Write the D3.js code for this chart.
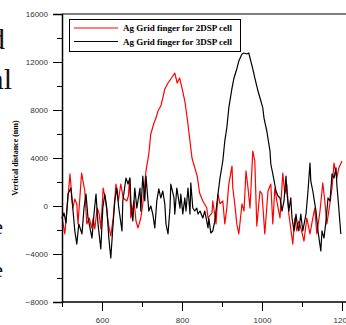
<!DOCTYPE html>
<html>
<head>
<meta charset="utf-8">
<script src="https://cdn.jsdelivr.net/npm/d3@7"></script>
<style>
  body { margin: 0; background: #fff; }
  svg { display: block; }
</style>
</head>
<body>
<svg id="chart" width="346" height="325"></svg>
<script>
// profile of the 2DSP finger (red)
const red2dspX = [500, 507, 520, 527, 532, 537, 540, 549, 557, 562, 568, 574, 578, 582, 588, 593, 597, 603, 609, 616,
  622, 628, 635, 641, 647, 653, 662, 666, 669, 672, 680, 685, 690, 697, 702, 710, 717, 722, 730, 735,
  740, 747, 752, 757, 765, 772, 777, 782, 788, 794, 800, 807, 813, 819, 825, 832, 838, 844, 852, 862,
  865, 875, 877, 885, 890, 895, 902, 907, 912, 917, 925, 927, 932, 937, 942, 950, 955, 960, 965, 970,
  977, 982, 987, 995, 1000, 1007, 1015, 1022, 1027, 1032, 1037, 1045, 1052, 1057, 1062, 1067, 1077, 1082, 1087, 1092,
  1097, 1105, 1112, 1120, 1127, 1132, 1137, 1145, 1152, 1157, 1162, 1167, 1175, 1180, 1187, 1192, 1200];
const red2dspY = [-900, -2330, 2670, -170, 580, 170, -1500, 2750, 1250, -1500, -1000, -1830, -1000, -1900, -170, -670, -1900, 1500, 420, -1500,
  -2500, -1000, 1830, 420, 1830, 670, 420, 830, 2330, -1000, 420, -1250, -1830, -1000, 170, 2920, 4330, 6000, 6920, 7330,
  7920, 8330, 9000, 9750, 10250, 10580, 10830, 11080, 10250, 10670, 9830, 8750, 7330, 5670, 4000, 3170, 2500, 1080, 420, -170,
  -1000, -580, 420, -1500, 1000, 170, 420, -1500, -170, 1830, 3330, 1500, 170, -1500, -2330, 170, -420, 2920, 1500, -170,
  4580, 3750, -1670, 1250, 1000, -2330, 1250, 1830, -1500, 1500, 420, -1000, 2750, 1000, 1830, -670, -3170, -1000, -2080, -1250,
  -1830, -2920, -1000, -2330, -1000, -170, -2330, -420, 1920, 420, -1500, -420, 1500, 3580, 2330, 3170, 3750];

// profile of the 3DSP finger (black)
const black3dspX = [500, 505, 510, 515, 522, 527, 532, 537, 542, 550, 555, 560, 565, 575, 580, 585, 590, 597, 602, 607,
  612, 617, 622, 627, 632, 637, 642, 650, 652, 660, 665, 670, 672, 677, 682, 687, 695, 697, 702, 707,
  710, 717, 722, 727, 732, 737, 742, 747, 752, 757, 760, 765, 770, 772, 780, 782, 787, 795, 797, 802,
  807, 810, 815, 820, 822, 827, 832, 837, 840, 845, 852, 857, 865, 867, 872, 877, 882, 890, 895, 902,
  907, 912, 917, 925, 930, 937, 942, 950, 955, 962, 967, 972, 977, 982, 990, 995, 1002, 1005, 1012, 1020,
  1022, 1027, 1035, 1040, 1045, 1050, 1055, 1060, 1062, 1067, 1072, 1075, 1080, 1085, 1087, 1092, 1097, 1102, 1110, 1115,
  1120, 1122, 1127, 1135, 1140, 1147, 1150, 1155, 1160, 1165, 1170, 1175, 1180, 1185, 1187, 1192, 1197];
const black3dspY = [-1000, -580, -1420, 1000, 1500, -170, -2080, -3170, -1500, -2330, -170, 1000, -1000, -2670, -670, 1000, -1500, -3580, -170, 1000,
  -170, -2670, -4330, -1830, 420, 1500, -170, -2080, 420, 2330, 1830, 2330, 420, -1250, 1500, -170, 1500, -420, 2500, 420,
  2500, -420, 0, -670, -1830, 420, 1420, 670, 1250, 170, -1500, -2330, -170, 1830, 670, -670, 1500, -170, 1000, -670,
  670, -420, 1500, -670, 1920, -170, -420, -170, -670, -420, -1000, -420, -1830, -1000, -2250, -2080, -1250, 1000, 2330, 3750,
  5420, 6500, 8170, 9830, 10670, 11420, 12080, 12670, 12750, 12670, 12750, 12080, 11420, 10670, 9580, 9000, 8170, 7330, 6250, 4580,
  3500, 2670, 1250, 830, 670, -420, 420, 2500, 1250, -420, 670, -1000, -2080, -670, -1250, -2080, -670, -2080, -670, 1250,
  3580, 2080, 1250, -420, -2080, -3750, -2080, -2670, -1250, 670, 420, 2670, 2330, 3170, 1830, -170, -2330];

const xMajor = [600, 800, 1000, 1200];
const xMinor = [500, 700, 900, 1100];
const yMajor = [-8000, -4000, 0, 4000, 8000, 12000, 16000];
const yMinor = [-6000, -2000, 2000, 6000, 10000, 14000];
const seriesNames = ['Ag Grid finger for 2DSP cell', 'Ag Grid finger for 3DSP cell'];
const seriesColors = ['#ff0000', '#000000'];

const svg = d3.select('#chart');
const plot = {left: 62, right: 342, top: 14, bottom: 302};

const x = d3.scaleLinear().domain([500, 1200]).range([plot.left, plot.right]);
const y = d3.scaleLinear().domain([-8000, 16000]).range([plot.bottom, plot.top]);

// bits of the neighbouring page text, clipped at the left edge
const pageText = svg.append('g')
  .attr('font-family', 'Liberation Serif, Times New Roman, serif')
  .attr('fill', '#111')
  .attr('text-anchor', 'end');
pageText.append('text').attr('x', 5).attr('y', 49).attr('font-size', 30).text('d');
pageText.append('text').attr('x', 12).attr('y', 89).attr('font-size', 30).text('al');
pageText.append('text').attr('x', 3).attr('y', 234).attr('font-size', 22).text('e');
pageText.append('text').attr('x', 3).attr('y', 277).attr('font-size', 22).text('e');

const series = [
  {name: seriesNames[0], color: seriesColors[0], xs: red2dspX, ys: red2dspY},
  {name: seriesNames[1], color: seriesColors[1], xs: black3dspX, ys: black3dspY}
];

const line = d3.line()
  .x(d => x(d[0]))
  .y(d => y(d[1]));

svg.append('g')
  .selectAll('path')
  .data(series)
  .join('path')
  .attr('fill', 'none')
  .attr('stroke', d => d.color)
  .attr('stroke-width', 1.2)
  .attr('stroke-linejoin', 'round')
  .attr('d', d => line(d.xs.map((v, i) => [v, d.ys[i]])));

// axes
const tickFont = g => g
  .attr('font-family', 'Liberation Sans, Arial, sans-serif')
  .attr('font-size', 8);

const yAxis = svg.append('g')
  .attr('transform', `translate(${plot.left},0)`)
  .call(d3.axisLeft(y).tickValues(yMajor).tickSize(9).tickPadding(5).tickFormat(d3.format('d')))
  .call(tickFont);
yAxis.select('.domain').attr('stroke-width', 1.5);
yAxis.selectAll('text').attr('fill', '#333');

svg.append('g')
  .attr('transform', `translate(${plot.left},0)`)
  .call(d3.axisLeft(y).tickValues(yMinor).tickSize(5).tickFormat(''))
  .call(g => g.select('.domain').remove());

const xAxis = svg.append('g')
  .attr('transform', `translate(0,${plot.bottom})`)
  .call(d3.axisBottom(x).tickValues(xMajor).tickSize(9).tickPadding(6).tickFormat(d3.format('d')))
  .call(tickFont);
xAxis.select('.domain').attr('stroke-width', 1.5).attr('d', `M${plot.left},0H346`);
xAxis.selectAll('text').attr('fill', '#333');

svg.append('g')
  .attr('transform', `translate(0,${plot.bottom})`)
  .call(d3.axisBottom(x).tickValues(xMinor).tickSize(5).tickFormat(''))
  .call(g => g.select('.domain').remove());

// top frame line
svg.append('line')
  .attr('x1', plot.left).attr('x2', 346)
  .attr('y1', plot.top).attr('y2', plot.top)
  .attr('stroke', '#000').attr('stroke-width', 1.2);

// y title
svg.append('text')
  .attr('transform', `translate(18,${(plot.top + plot.bottom) / 2}) rotate(-90)`)
  .attr('text-anchor', 'middle')
  .attr('font-family', 'Liberation Serif, Times New Roman, serif')
  .attr('font-weight', 'bold')
  .attr('font-size', 8)
  .text('Vertical distance (nm)');

// legend
const legend = svg.append('g');
legend.append('rect')
  .attr('x', 69.5).attr('y', 19.5)
  .attr('width', 171).attr('height', 32)
  .attr('fill', '#fff')
  .attr('stroke', '#000')
  .attr('stroke-width', 1);

const items = legend.selectAll('g.item')
  .data(series)
  .join('g')
  .attr('class', 'item')
  .attr('transform', (d, i) => `translate(0,${28 + i * 13.5})`);

items.append('line')
  .attr('x1', 74).attr('x2', 118)
  .attr('stroke', d => d.color)
  .attr('stroke-width', 1.2);

items.append('text')
  .attr('x', 123)
  .attr('y', 3)
  .attr('font-family', 'Liberation Serif, Times New Roman, serif')
  .attr('font-weight', 'bold')
  .attr('font-size', 9)
  .text(d => d.name);
</script>
</body>
</html>
